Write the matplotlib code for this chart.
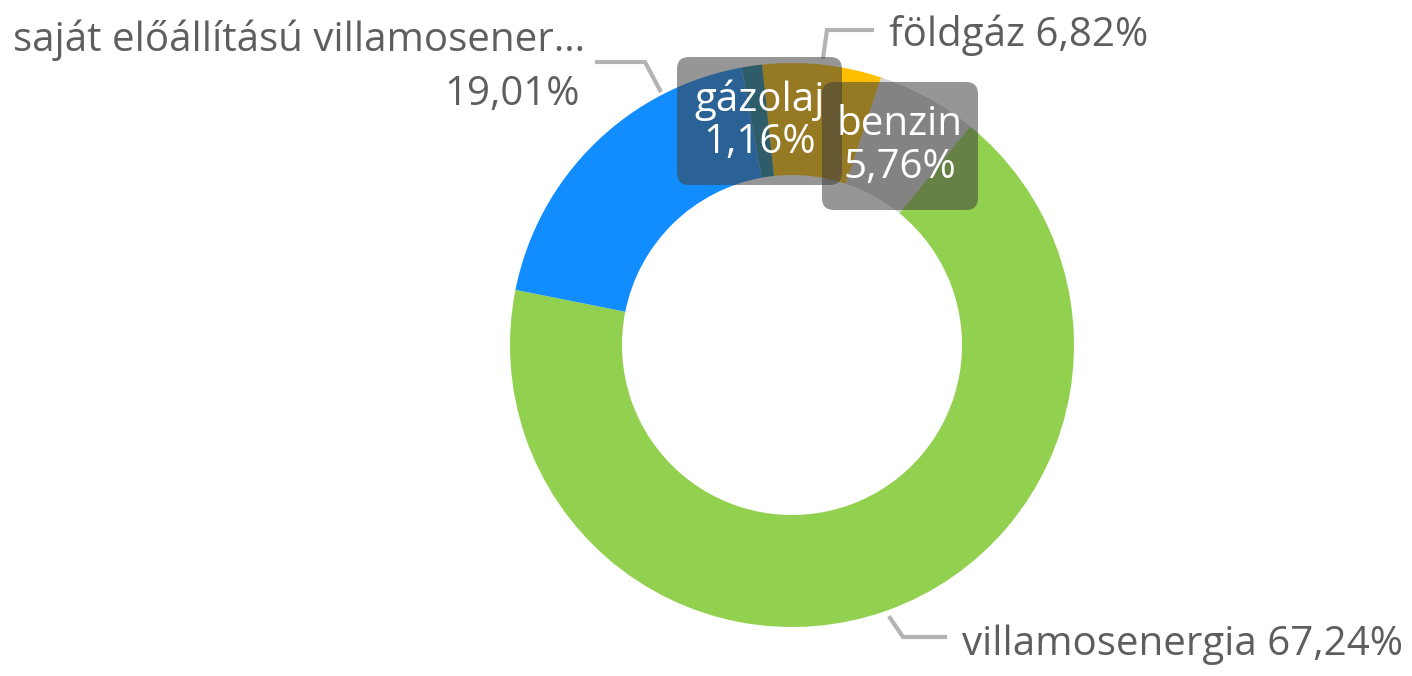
import numpy as np
import matplotlib.pyplot as plt
from matplotlib.patches import FancyBboxPatch

plt.rcParams['font.family'] = ['Open Sans', 'DejaVu Sans']

# data (clockwise from top)
categories = ['földgáz', 'benzin', 'villamosenergia', 'saját előállítású villamosener…', 'gázolaj']
shares = [6.82, 5.76, 67.24, 19.01, 1.16]
colors = ['#FFBF00', '#D6D6D6', '#92D14F', '#118DFF', '#1A7E9C']

W, H = 1412, 676
fig = plt.figure(figsize=(W / 100, H / 100), dpi=100)
ax = fig.add_axes([0, 0, 1, 1])

cx, cy, R = 792, H - 345, 282
wedges, _ = ax.pie(shares, colors=colors, startangle=96.1, counterclock=False,
                   center=(cx, cy), radius=R, frame=True,
                   wedgeprops=dict(width=112, linewidth=0))
ax.set_xlim(0, W)
ax.set_ylim(0, H)
ax.set_aspect('equal')
ax.axis('off')


def fmt(v):
    return f'{v:.2f}'.replace('.', ',') + '%'


def mid_point(w, r):
    a = np.deg2rad((w.theta1 + w.theta2) / 2)
    return cx + r * np.cos(a), cy + r * np.sin(a)


txt = '#605E5C'
lead = '#B3B3B3'
fs = 29

# földgáz
x0, y0 = mid_point(wedges[0], 290)
ax.plot([x0, 827, 872], [y0, H - 30, H - 30], color=lead, lw=3, solid_joinstyle='miter')
ax.text(889, H - 35, f'{categories[0]} {fmt(shares[0])}', color=txt, fontsize=fs,
        ha='left', va='center')

# villamosenergia
x0, y0 = mid_point(wedges[2], 290)
ax.plot([x0, 903, 945], [y0, H - 637, H - 637], color=lead, lw=3, solid_joinstyle='miter')
ax.text(962, H - 645, f'{categories[2]} {fmt(shares[2])}', color=txt, fontsize=fs,
        ha='left', va='center')

# saját
a = np.deg2rad(117.4)
x0, y0 = cx + 287 * np.cos(a), cy + 287 * np.sin(a)
ax.plot([x0, 645, 597], [y0, H - 62, H - 62], color=lead, lw=3, solid_joinstyle='miter')
ax.text(585, H - 40, categories[3], color=txt, fontsize=fs, ha='right', va='center')
ax.text(580, H - 95, fmt(shares[3]), color=txt, fontsize=fs, ha='right', va='center')

# inside labels with dark boxes
for (x1, y1, x2, y2), i in [((677, 57, 842, 185), 4), ((822, 82, 978, 210), 1)]:
    box = FancyBboxPatch((x1 + 12, H - y2 + 12), x2 - x1 - 24, y2 - y1 - 24,
                         boxstyle='round,pad=12', facecolor='#404040', alpha=0.55,
                         edgecolor='none', zorder=5)
    ax.add_patch(box)
    xm = (x1 + x2) / 2
    ym = H - (y1 + y2) / 2
    ax.text(xm, ym + 21, categories[i], color='white', fontsize=fs, ha='center',
            va='center', zorder=6)
    ax.text(xm, ym - 22, fmt(shares[i]), color='white', fontsize=fs, ha='center',
            va='center', zorder=6)

fig.savefig('out.png', dpi=100)
